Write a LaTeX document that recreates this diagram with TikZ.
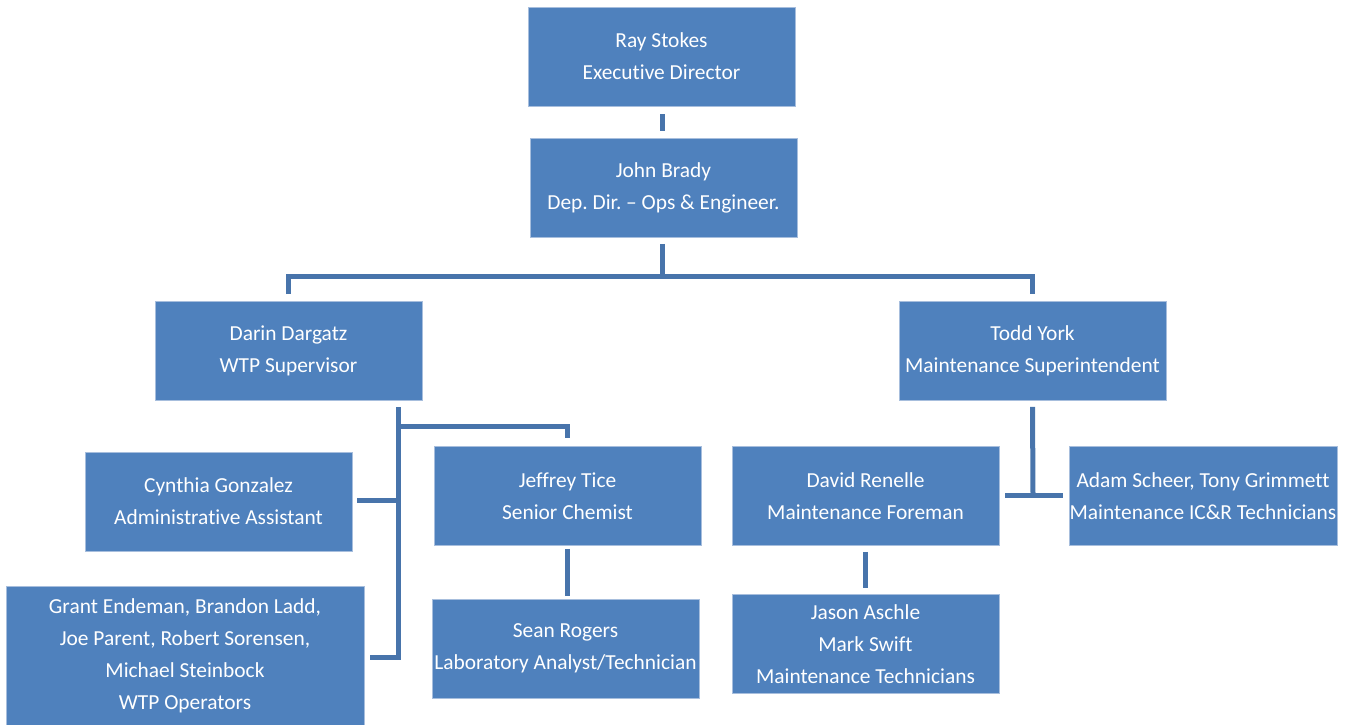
\documentclass[tikz,border=0pt]{standalone}
\usepackage{fontspec}
\setmainfont{Carlito}[Ligatures={NoCommon}]
\usepackage{tikz}
\usetikzlibrary{positioning}
\definecolor{boxblue}{HTML}{4F81BD}
\definecolor{boxedge}{HTML}{A7BEDD}
\definecolor{lineblue}{HTML}{4874AB}
\frenchspacing

\begin{document}
\begin{tikzpicture}[
  x=1pt, y=-1pt,
  box/.style={draw=boxedge, line width=0.8pt, fill=boxblue, text=white, inner sep=0pt,
    minimum width=267pt, minimum height=99pt, align=center,
    font=\fontsize{21.4}{32}\selectfont},
  conn/.style={draw=lineblue, line width=5pt}
]
\useasboundingbox (0,0) rectangle (1351,724);

% Top of the chart
\node[box] (ray) at (661.5,56.5) {Ray Stokes\\Executive Director};
\node[box] (john) at (663.5,188) {John Brady\\Dep. Dir. -- Ops \& Engineer.};

% Second level
\node[box] (darin) at (288.5,351) {Darin Dargatz\\WTP Supervisor};
\node[box] (todd) at (1032.5,351) {Todd York\\Maintenance Superintendent};

% WTP side
\node[box] (cynthia) at (218.5,501.5) {Cynthia Gonzalez\\Administrative Assistant};
\node[box] (jeffrey) at (567.5,496) {Jeffrey Tice\\Senior Chemist};
\node[box, minimum width=358pt, minimum height=139pt] (operators) at (185,655.5)
  {Grant Endeman, Brandon Ladd,\\Joe Parent, Robert Sorensen,\\Michael Steinbock\\WTP Operators};
\node[box] (sean) at (565.5,648.5) {Sean Rogers\\Laboratory Analyst/Technician};

% Maintenance side
\node[box] (david) at (865.5,496) {David Renelle\\Maintenance Foreman};
\node[box, minimum width=268pt] (adam) at (1203,496) {Adam Scheer, Tony Grimmett\\Maintenance IC\&R Technicians};
\node[box] (jason) at (865.5,644) {Jason Aschle\\Mark Swift\\Maintenance Technicians};

% Junction points
\coordinate (jbus) at (662,276);
\coordinate (dtop) at (398,407);
\coordinate (dchem) at (398,426);
\coordinate (dadmin) at (398,500);
\coordinate (dbot) at (398,657);
\coordinate (tjoin) at (1033,495);

% Connectors
\draw[conn] ([yshift=-8pt]jbus |- ray.south) -- ([yshift=7pt]jbus |- john.north);
\draw[conn] ([yshift=-6pt]jbus |- john.south) -- (jbus);
\draw[conn] ([yshift=7pt]darin.north) |- (jbus) -| ([yshift=7pt]todd.north);

\draw[conn] (dtop) -- (dbot) -- ([xshift=6pt]operators.east |- dbot);
\draw[conn] (dadmin) -- ([xshift=5pt]cynthia.east |- dadmin);
\draw[conn] (dchem) -| ([yshift=8pt]jeffrey.north);
\draw[conn] ([yshift=-3pt]jeffrey.south) -- ([yshift=3pt]jeffrey.south |- sean.north);

\draw[conn] ([yshift=-6pt]todd.south) -- (tjoin);
\draw[conn] ([xshift=6pt]david.east |- tjoin) -- ([xshift=-6pt]adam.west |- tjoin);
\draw[conn] ([yshift=-6pt]david.south) -- ([yshift=6pt]jason.north);
\end{tikzpicture}
\end{document}
